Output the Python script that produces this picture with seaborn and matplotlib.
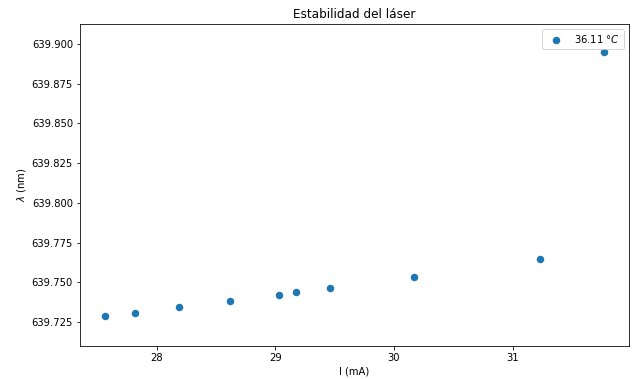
import matplotlib
matplotlib.use("Agg")
import matplotlib.pyplot as plt
import seaborn as sns
import pandas as pd

current_mA = [27.564, 27.817, 28.187, 28.617, 29.03, 29.173, 29.46, 30.167, 31.228, 31.77]
wavelength_nm = [639.7286, 639.7305, 639.7343, 639.7381, 639.7422, 639.7437, 639.7468, 639.7537, 639.7650, 639.8948]
series_label = r"36.11 $°C$"

df = pd.DataFrame({"I": current_mA, "lam": wavelength_nm})

fig = plt.figure(figsize=(638 / 72, 379 / 72), dpi=72)
ax = fig.add_axes([80 / 638, 1 - 346 / 379, 549 / 638, 322 / 379])
sns.scatterplot(data=df, x="I", y="lam", ax=ax, color="#1f77b4", s=36,
                linewidth=1.5, edgecolor="#1f77b4", label=series_label)
ax.ticklabel_format(axis="y", useOffset=False)
ax.set_ylim(639.710, 639.9126)
ax.set_title("Estabilidad del láser")
ax.set_xlabel("I (mA)")
ax.set_ylabel(r"$\lambda$ (nm)")
ax.legend(loc="upper right")
fig.savefig("out.png", dpi=72)
